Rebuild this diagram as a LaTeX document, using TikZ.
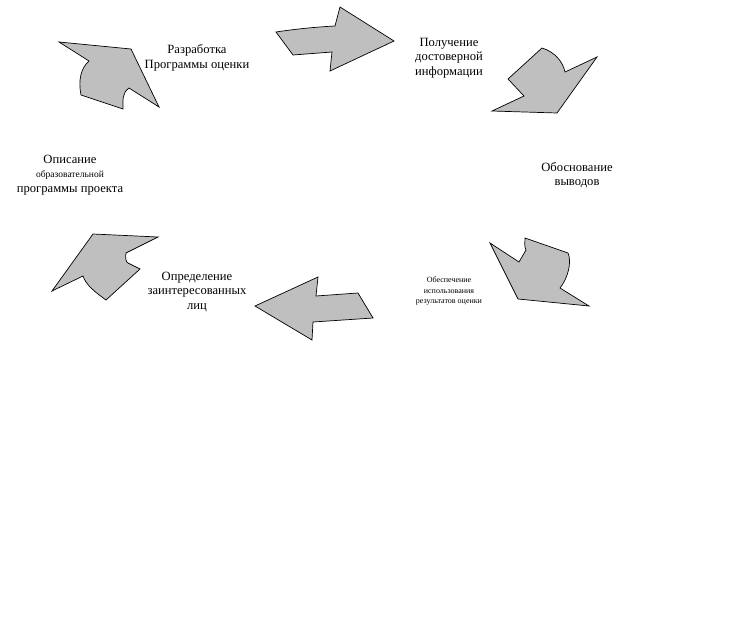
\documentclass[tikz,border=0pt]{standalone}
\usepackage{fontspec}
\setmainfont{Liberation Serif}
\begin{document}
\begin{tikzpicture}[x=1pt,y=-1pt,
  blockarrow/.style={draw=black,fill=gray!50,line width=0.7pt,line join=miter},
  lbl/.style={align=center,inner sep=0pt,font=\fontsize{12.6}{14.5}\selectfont},
  small/.style={font=\fontsize{8}{10.5}\selectfont}]
\useasboundingbox (0,0) rectangle (756,635);
% arrows of the cycle
\draw[blockarrow] (59,42) -- (131,49) -- (159,107) -- (129,88) .. controls (122,93) and (123,100) .. (123,109) -- (81,95) .. controls (78,80) and (81,68) .. (89,61) -- cycle;
\draw[blockarrow] (276,32) .. controls (296,29) and (316,27) .. (335,26) -- (340,7) -- (394,41) -- (330,71) -- (332,52) -- (293,55) -- cycle;
\draw[blockarrow] (542,48) .. controls (555,52) and (563,62) .. (565,72) -- (597,57) -- (557,113) -- (492,111) -- (524,96) -- (508,79) -- cycle;
\draw[blockarrow] (490,243) -- (519,262) -- (526,250) .. controls (524,246) and (525,242) .. (525,238) -- (568,253) .. controls (572,262) and (568,278) .. (560,288) -- (589,306) -- (518,299) -- cycle;
\draw[blockarrow] (255,306) -- (318,277) -- (316,296) -- (358,293) -- (373,318) -- (313,322) -- (312,340) -- cycle;
\draw[blockarrow] (93,234) -- (158,237) -- (126,253) .. controls (125,258) and (126,262) .. (128,263) -- (140,269) -- (106,300) .. controls (95,292) and (86,285) .. (83,276) -- (52,291) -- cycle;
% labels
\node[lbl] (razrab) at (197,58) {Разработка\\Программы оценки};
\node[lbl] (poluch) at (449,58) {Получение\\достоверной\\информации};
\node[lbl] (obosn) at (577,175) {Обоснование\\выводов};
\node[lbl,small] (obesp) at (449,291) {Обеспечение\\использования\\результатов оценки};
\node[lbl] (opred) at (197,292) {Определение\\заинтересованных\\лиц};
\node[lbl] (opis) at (70,175) {Описание\\{\fontsize{9.5}{13}\selectfont образовательной}\\программы проекта};
\end{tikzpicture}
\end{document}
